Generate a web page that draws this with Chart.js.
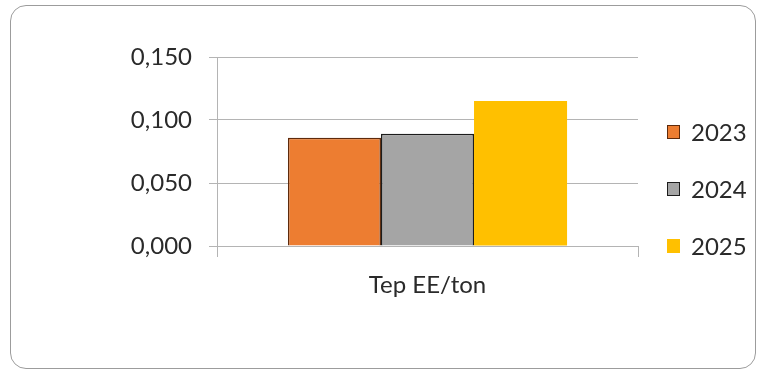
<!DOCTYPE html>
<html>
<head>
<meta charset="utf-8">
<script src="https://cdn.jsdelivr.net/npm/chart.js@4/dist/chart.umd.min.js"></script>
<style>
  html, body { margin: 0; padding: 0; background: #ffffff; }
  #wrap { position: relative; width: 758px; height: 371px; overflow: hidden; }
  #frame {
    position: absolute; left: 10px; top: 5px; width: 746px; height: 364px;
    box-sizing: border-box; border: 1.5px solid #9c9c9c; border-radius: 16px;
    pointer-events: none;
  }
  canvas { position: absolute; left: 0; top: 0; }
</style>
</head>
<body>
<div id="wrap">
  <canvas id="chart" width="758" height="371"></canvas>
  <div id="frame"></div>
</div>
<script>
// Energy intensity indicator per year
const categories = ['Tep EE/ton'];
const years = ['2023', '2024', '2025'];
const values2023 = [0.086];
const values2024 = [0.089];
const values2025 = [0.115];
const yTicks = [0, 0.05, 0.10, 0.15];

const FONT = 'Lato, "Open Sans", sans-serif';
const TEXT = '#2a2a2a';
const GRID = '#b4b4b4';

// Legend stacked on the right side of the plot
const sideLegend = {
  id: 'sideLegend',
  afterDraw(chart) {
    const ctx = chart.ctx;
    const boxX = 667, boxW = 13, boxH = 14, firstY = 132, step = 57;
    ctx.save();
    ctx.font = '24px ' + FONT;
    ctx.textBaseline = 'middle';
    ctx.textAlign = 'left';
    chart.data.datasets.forEach((ds, i) => {
      const cy = firstY + i * step;
      ctx.fillStyle = ds.backgroundColor;
      ctx.fillRect(boxX, cy - boxH / 2, boxW, boxH);
      if (ds.borderWidth > 0) {
        ctx.strokeStyle = ds.borderColor;
        ctx.lineWidth = 1;
        ctx.strokeRect(boxX + 0.5, cy - boxH / 2 + 0.5, boxW - 1, boxH - 1);
      }
      ctx.fillStyle = TEXT;
      ctx.fillText(ds.label, boxX + boxW + 11, cy + 1);
    });
    ctx.restore();
  }
};

new Chart(document.getElementById('chart'), {
  type: 'bar',
  data: {
    labels: categories,
    datasets: [
      { label: years[0], data: values2023, backgroundColor: '#ED7D31', borderColor: '#5e2a0c', borderWidth: 1.5 },
      { label: years[1], data: values2024, backgroundColor: '#A5A5A5', borderColor: '#1c1c1c', borderWidth: 1.5 },
      { label: years[2], data: values2025, backgroundColor: '#FFC000', borderColor: '#FFC000', borderWidth: 0 }
    ]
  },
  options: {
    responsive: false,
    animation: false,
    events: [],
    categoryPercentage: 0.663,
    barPercentage: 1,
    layout: { padding: { top: 57, right: 120, bottom: 0, left: 0 } },
    plugins: {
      legend: { display: false },
      tooltip: { enabled: false }
    },
    scales: {
      x: {
        afterFit(scale) { scale.height = 125; },
        grid: { drawOnChartArea: false, drawTicks: true, tickLength: 11, color: GRID, offset: true },
        border: { display: true, color: GRID, width: 1 },
        ticks: { color: TEXT, font: { family: FONT, size: 24 }, padding: 14 }
      },
      y: {
        min: 0,
        max: 0.15,
        afterFit(scale) { scale.width = 217; },
        afterBuildTicks(scale) { scale.ticks = yTicks.map(v => ({ value: v })); },
        grid: { color: GRID, tickLength: 8, lineWidth: 1 },
        border: { display: true, color: GRID, width: 1 },
        ticks: {
          color: TEXT,
          font: { family: FONT, size: 24 },
          padding: 17,
          callback: v => v.toFixed(3).replace('.', ',')
        }
      }
    }
  },
  plugins: [sideLegend]
});
</script>
</body>
</html>
